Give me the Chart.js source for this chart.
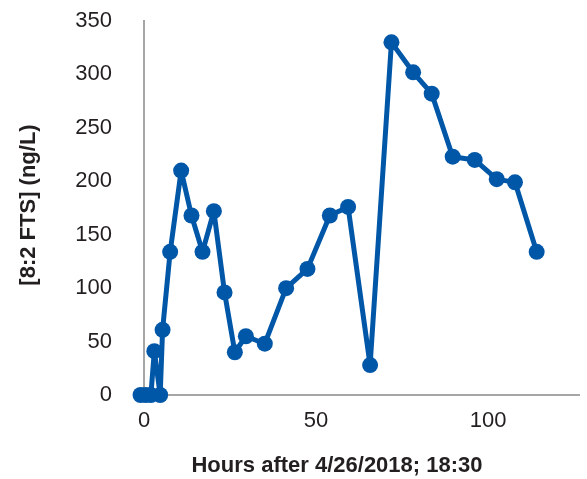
<!DOCTYPE html>
<html>
<head>
<meta charset="utf-8">
<script src="https://cdn.jsdelivr.net/npm/chart.js@4"></script>
<style>
  html, body { margin: 0; padding: 0; background: #fff; }
  #wrap { width: 587px; height: 479px; position: relative; }
</style>
</head>
<body>
<div id="wrap"><canvas id="ftsChart"></canvas></div>
<script>
// values
const hours = [-1, 0.5, 2, 3.0, 4.7, 5.4, 7.6, 10.8, 13.8, 17.0, 20.3, 23.4, 26.4, 29.6, 35.1,
  41.3, 47.5, 54.0, 59.3, 65.7, 71.9, 78.2, 83.6, 89.7, 96.1, 102.5, 107.8, 114.1];
const conc = [0, 0, 0, 41, 0, 61, 134, 210, 168, 134, 172, 96, 40, 55, 48,
  100, 118, 168, 176, 28, 330, 302, 282, 223, 220, 202, 199, 134];
const xTicks = [0, 50, 100];
const yTicks = [0, 50, 100, 150, 200, 250, 300, 350];
const xTitle = "Hours after 4/26/2018; 18:30";
const yTitle = "[8:2 FTS] (ng/L)";

const blue = "#0057a8";
const axisGray = "#a6a6a6";
const textColor = "#231f20";
const font = "'Liberation Sans', Arial, Helvetica, sans-serif";

// axis titles drawn by hand so they sit where the reference puts them
const axisTitles = {
  id: "axisTitles",
  afterDraw(chart) {
    const ctx = chart.ctx;
    ctx.save();
    ctx.fillStyle = textColor;
    ctx.font = "bold 22px " + font;
    ctx.textAlign = "center";
    ctx.textBaseline = "middle";
    ctx.fillText(xTitle, 337, 466);
    ctx.translate(29, 205);
    ctx.rotate(-Math.PI / 2);
    ctx.fillText(yTitle, 0, 0);
    ctx.restore();
  }
};

new Chart(document.getElementById("ftsChart"), {
  type: "scatter",
  data: {
    datasets: [{
      data: hours.map((h, i) => ({ x: h, y: conc[i] })),
      showLine: true,
      borderColor: blue,
      backgroundColor: blue,
      borderWidth: 5,
      borderJoinStyle: "round",
      borderCapStyle: "round",
      pointRadius: 8,
      pointHoverRadius: 8,
      pointBorderWidth: 0,
      clip: false
    }]
  },
  options: {
    responsive: true,
    maintainAspectRatio: false,
    animation: false,
    layout: { padding: { top: 21, right: 2, left: 0, bottom: 0 } },
    plugins: {
      legend: { display: false },
      tooltip: { enabled: false }
    },
    scales: {
      x: {
        type: "linear",
        min: 0,
        max: 126.4,
        grid: { display: false },
        border: { display: true, color: axisGray, width: 2 },
        ticks: { color: textColor, font: { family: font, size: 22 }, padding: 5, maxRotation: 0 },
        afterBuildTicks: (axis) => { axis.ticks = xTicks.map(v => ({ value: v })); },
        afterFit: (axis) => { axis.height = 84; axis.paddingLeft = 0; axis.paddingRight = 0; }
      },
      y: {
        min: 0,
        max: 350,
        grid: { display: false },
        border: { display: true, color: axisGray, width: 2 },
        ticks: { color: textColor, font: { family: font, size: 22 }, padding: 24 },
        afterBuildTicks: (axis) => { axis.ticks = yTicks.map(v => ({ value: v })); },
        afterFit: (axis) => { axis.width = 144; axis.paddingTop = 0; axis.paddingBottom = 0; }
      }
    }
  },
  plugins: [axisTitles]
});
</script>
</body>
</html>
